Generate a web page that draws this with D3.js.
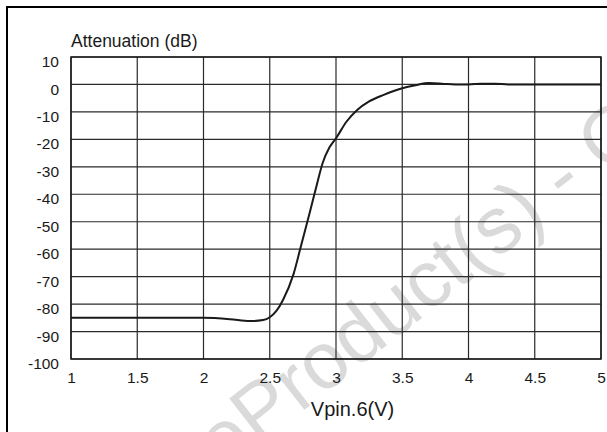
<!DOCTYPE html>
<html>
<head>
<meta charset="utf-8">
<script src="https://cdn.jsdelivr.net/npm/d3@7"></script>
<style>
  html, body { margin: 0; padding: 0; background: #fff; }
  svg { display: block; }
  text { font-family: Arial, "Liberation Sans", sans-serif; }
</style>
</head>
<body>
<svg id="chart" width="607" height="432"></svg>
<script>
// Control voltage on pin 6 (V)
const vpin = [1, 1.5, 2, 2.2, 2.35, 2.45, 2.5, 2.55, 2.6, 2.68, 2.74, 2.8, 2.85, 2.9, 2.95,
              3.0, 3.08, 3.16, 3.25, 3.36, 3.5, 3.6, 3.7, 3.8, 3.9, 4.0, 4.1, 4.2, 4.3, 4.5, 5];
// Attenuation (dB)
const attenuation = [-85, -85, -85, -85.5, -86.2, -85.8, -84.8, -82.5, -78.5, -69, -58, -47, -37.5, -28.5, -23,
                     -19.6, -13.5, -9.3, -6.2, -3.8, -1.4, -0.3, 0.5, 0.3, 0, 0, 0.3, 0.3, 0, 0, 0];
const xTicks = [1, 1.5, 2, 2.5, 3, 3.5, 4, 4.5, 5];
const yTicks = [10, 0, -10, -20, -30, -40, -50, -60, -70, -80, -90, -100];

const svg = d3.select("#chart");
const W = 607, H = 432;
const plot = { left: 71, right: 601, top: 57, bottom: 359 };

const x = d3.scaleLinear().domain([1, 5]).range([plot.left, plot.right]);
const y = d3.scaleLinear().domain([-100, 10]).range([plot.bottom, plot.top]);
const fmt = d => String(d);

// Background watermark
const wm = svg.append("g")
  .attr("transform", "translate(258,446) rotate(-38)")
  .attr("fill", "#dadada")
  .style("font-size", "80px");
wm.append("text").attr("text-anchor", "end").text("Obsolete ");
wm.append("text").attr("text-anchor", "start").text("Product(s) - Obsolete Product(s)");

// Outer frame (top and left edges)
svg.append("path")
  .attr("d", `M7,${H} L7,7 L${W},7`)
  .attr("fill", "none").attr("stroke", "#000").attr("stroke-width", 2);

// Grid
const grid = svg.append("g").attr("stroke", "#2a2a2a").attr("stroke-width", 1.2);
grid.selectAll("line.v").data(xTicks).join("line")
  .attr("class", "v")
  .attr("x1", d => x(d)).attr("x2", d => x(d))
  .attr("y1", plot.top).attr("y2", plot.bottom);
grid.selectAll("line.h").data(yTicks).join("line")
  .attr("class", "h")
  .attr("x1", plot.left).attr("x2", plot.right)
  .attr("y1", d => y(d)).attr("y2", d => y(d));

svg.append("rect")
  .attr("x", plot.left).attr("y", plot.top)
  .attr("width", plot.right - plot.left).attr("height", plot.bottom - plot.top)
  .attr("fill", "none").attr("stroke", "#1a1a1a").attr("stroke-width", 1.5);

// Tick labels from d3 axes (axis lines hidden, grid drawn above)
const xAxis = svg.append("g")
  .attr("transform", `translate(0,${plot.bottom})`)
  .call(d3.axisBottom(x).tickValues(xTicks).tickSize(0).tickPadding(13).tickFormat(fmt));
xAxis.select(".domain").remove();
xAxis.selectAll("text").style("font-size", "15.5px").attr("fill", "#1a1a1a")
  .style("font-family", "Arial, 'Liberation Sans', sans-serif");

const yAxis = svg.append("g")
  .attr("transform", `translate(${plot.left},0)`)
  .call(d3.axisLeft(y).tickValues(yTicks).tickSize(0).tickPadding(12).tickFormat(fmt));
yAxis.select(".domain").remove();
yAxis.selectAll("text").style("font-size", "15.5px").attr("fill", "#1a1a1a")
  .attr("dy", "0.62em")
  .style("font-family", "Arial, 'Liberation Sans', sans-serif");

// Titles
svg.append("text")
  .attr("x", 71).attr("y", 47)
  .style("font-size", "17.5px").attr("fill", "#1a1a1a")
  .text("Attenuation (dB)");

svg.append("text")
  .attr("x", 352.5).attr("y", 416)
  .attr("text-anchor", "middle")
  .style("font-size", "20px").attr("fill", "#1a1a1a")
  .text("Vpin.6(V)");

// Attenuation curve
const line = d3.line()
  .x((d, i) => x(vpin[i]))
  .y(d => y(d))
  .curve(d3.curveMonotoneX);

svg.append("path")
  .datum(attenuation)
  .attr("d", line)
  .attr("fill", "none")
  .attr("stroke", "#1a1a1a")
  .attr("stroke-width", 2);
</script>
</body>
</html>
